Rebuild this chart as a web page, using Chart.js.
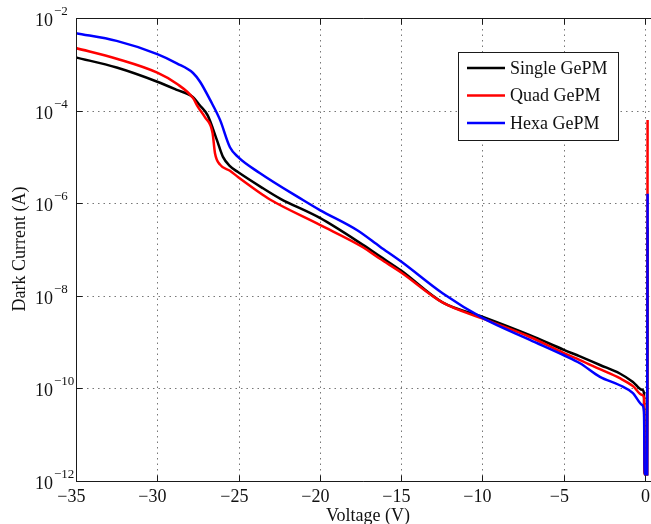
<!DOCTYPE html>
<html>
<head>
<meta charset="utf-8">
<title>Dark current vs voltage</title>
<script src="https://cdn.jsdelivr.net/npm/chart.js@4.4.0/dist/chart.umd.min.js"></script>
<style>
  body { margin: 0; background: #fff; }
  canvas { display: block; }
</style>
</head>
<body>
<canvas id="chart" width="651" height="524"></canvas>
<script>
// dark current (A) against bias voltage (V) for three GePM devices
const voltSingle = [-35, -32.5, -30, -28.8, -27.8, -27.4, -26.9, -26.33, -25.96, -25.53, -25.04, -23.5, -22.45, -20, -17.35, -16.3, -15, -12.43, -9.97, -7.08, -4.99, -4, -2.77, -1.55, -0.74, -0.18, -0.06, -0.02, 0.13, 0.16];
const curSingle = [1.41e-3, 8.5e-4, 4.2e-4, 2.8e-4, 1.95e-4, 1.32e-4, 7.9e-5, 2.3e-5, 1.0e-5, 6.3e-6, 4.7e-6, 2.1e-6, 1.26e-6, 4.8e-7, 1.26e-7, 7.1e-8, 3.5e-8, 7.1e-9, 3.5e-9, 1.41e-9, 6.8e-10, 4.9e-10, 3.2e-10, 2.1e-10, 1.38e-10, 9.3e-11, 7.9e-11, 1.4e-12, 1.4e-12, 3e-7];

const voltQuad = [-35, -32.5, -30, -28.8, -27.8, -27.5, -27.07, -26.6, -26.45, -26.14, -25.53, -25.04, -23.5, -23.07, -20, -17.35, -16.3, -15, -12.43, -9.97, -7.08, -4.99, -4, -2.77, -1.55, -0.74, -0.18, -0.06, -0.02, 0.13, 0.16];
const curQuad = [2.24e-3, 1.32e-3, 6.6e-4, 3.8e-4, 1.86e-4, 1.2e-4, 7.2e-5, 3.3e-5, 1.2e-5, 6.8e-6, 5.0e-6, 3.7e-6, 1.51e-6, 1.2e-6, 3.4e-7, 1.12e-7, 6.3e-8, 3.2e-8, 7.1e-9, 3.2e-9, 1.29e-9, 5.8e-10, 4.1e-10, 2.6e-10, 1.66e-10, 1.12e-10, 7.2e-11, 6.3e-11, 1.4e-12, 1.4e-12, 6.3e-5];

const voltHexa = [-35, -32.5, -30, -28.8, -27.8, -27.37, -26.75, -26.14, -25.53, -25.04, -23.7, -21.04, -20, -17.7, -16.3, -15, -12.43, -9.97, -7.08, -4.99, -4, -2.77, -1.55, -0.74, -0.18, -0.06, -0.02, 0.13, 0.16];
const curHexa = [4.7e-3, 3.2e-3, 1.66e-3, 1.05e-3, 6.5e-4, 4.2e-4, 1.7e-4, 6.3e-5, 1.62e-5, 1.0e-5, 4.5e-6, 1.17e-6, 7.1e-7, 2.6e-7, 1.15e-7, 5.5e-8, 1.12e-8, 3.3e-9, 1.12e-9, 5.2e-10, 3.5e-10, 1.78e-10, 1.17e-10, 7.9e-11, 4.4e-11, 3.1e-11, 1.4e-12, 1.4e-12, 1.6e-6];

const xTicks = [-35, -30, -25, -20, -15, -10, -5, 0];
const yExponents = [-2, -4, -6, -8, -10, -12];

const series = [
  { label: 'Single GePM', volt: voltSingle, cur: curSingle, color: '#000000' },
  { label: 'Quad GePM', volt: voltQuad, cur: curQuad, color: '#ff0000' },
  { label: 'Hexa GePM', volt: voltHexa, cur: curHexa, color: '#0000ff' }
];

const FONT = '"Liberation Serif", "Times New Roman", serif';

const datasets = series.map((s, i) => ({
  label: s.label,
  data: s.volt.map((v, k) => ({ x: v, y: s.cur[k] })),
  borderColor: s.color,
  borderWidth: 2.5,
  pointRadius: 0,
  fill: false,
  cubicInterpolationMode: 'monotone',
  order: series.length - i
}));

function seg(ctx, x1, y1, x2, y2) {
  ctx.beginPath();
  ctx.moveTo(x1, y1);
  ctx.lineTo(x2, y2);
  ctx.stroke();
}

// grid, box, ticks, labels and legend in MATLAB style
const axesDecor = {
  id: 'axesDecor',
  beforeDatasetsDraw(chart) {
    const { ctx, chartArea: a, scales: { x, y } } = chart;
    ctx.save();
    ctx.strokeStyle = '#777';
    ctx.lineWidth = 1;
    ctx.setLineDash([1.5, 4]);
    xTicks.forEach(v => {
      const px = Math.round(x.getPixelForValue(v)) + 0.5;
      seg(ctx, px, a.top, px, a.bottom);
    });
    yExponents.forEach(e => {
      const py = Math.round(y.getPixelForValue(Math.pow(10, e))) + 0.5;
      seg(ctx, a.left, py, a.right, py);
    });
    ctx.restore();
  },
  afterDatasetsDraw(chart) {
    const { ctx, chartArea: a, scales: { x, y } } = chart;
    ctx.save();
    ctx.strokeStyle = '#1a1a1a';
    ctx.lineWidth = 1;
    ctx.setLineDash([]);
    const left = Math.round(a.left) + 0.5;
    const top = Math.round(a.top) + 0.5;
    const bottom = Math.round(a.bottom) + 0.5;
    seg(ctx, left, top, a.right, top);
    seg(ctx, left, top, left, bottom);
    seg(ctx, left, bottom, a.right, bottom);

    // tick marks and labels on x
    ctx.fillStyle = '#111';
    ctx.font = '18px ' + FONT;
    ctx.textBaseline = 'alphabetic';
    xTicks.forEach(v => {
      const px = Math.round(x.getPixelForValue(v)) + 0.5;
      seg(ctx, px, bottom, px, bottom - 6);
      seg(ctx, px, top, px, top + 6);
      const digits = String(Math.abs(v));
      const w = ctx.measureText(digits).width;
      ctx.textAlign = 'right';
      ctx.fillText(v < 0 ? '\u2212' + digits : digits, px + w / 2, a.bottom + 21);
    });

    // tick marks and power-of-ten labels on y
    yExponents.forEach(e => {
      const py = Math.round(y.getPixelForValue(Math.pow(10, e))) + 0.5;
      seg(ctx, left, py, left + 6, py);
      ctx.textAlign = 'left';
      ctx.font = '18px ' + FONT;
      ctx.fillText('10', 35, py + 7.5);
      ctx.font = '13px ' + FONT;
      ctx.fillText('\u2212' + Math.abs(e), 54, py - 4);
    });

    // axis titles
    ctx.font = '18px ' + FONT;
    ctx.textAlign = 'center';
    ctx.fillText('Voltage (V)', 368, 521);
    ctx.save();
    ctx.translate(25, 249);
    ctx.rotate(-Math.PI / 2);
    ctx.fillText('Dark Current (A)', 0, 0);
    ctx.restore();

    // legend box
    ctx.fillStyle = '#fff';
    ctx.fillRect(458, 52, 160, 88);
    ctx.strokeStyle = '#1a1a1a';
    ctx.strokeRect(458.5, 52.5, 160, 88);
    ctx.textAlign = 'left';
    ctx.textBaseline = 'middle';
    series.forEach((s, i) => {
      const ly = 68 + i * 27.5;
      ctx.strokeStyle = s.color;
      ctx.lineWidth = 2.5;
      seg(ctx, 467, ly, 505, ly);
      ctx.fillStyle = '#111';
      ctx.fillText(s.label, 510, ly + 1);
    });
    ctx.restore();
  }
};

new Chart('chart', {
  type: 'line',
  data: { datasets },
  options: {
    responsive: false,
    animation: false,
    devicePixelRatio: 1,
    layout: { padding: { left: 76, top: 18, right: 0, bottom: 43 } },
    scales: {
      x: { type: 'linear', min: -35, max: 0.37, display: false },
      y: { type: 'logarithmic', min: 1e-12, max: 1e-2, display: false }
    },
    plugins: {
      legend: { display: false },
      tooltip: { enabled: false }
    }
  },
  plugins: [axesDecor]
});
</script>
</body>
</html>
